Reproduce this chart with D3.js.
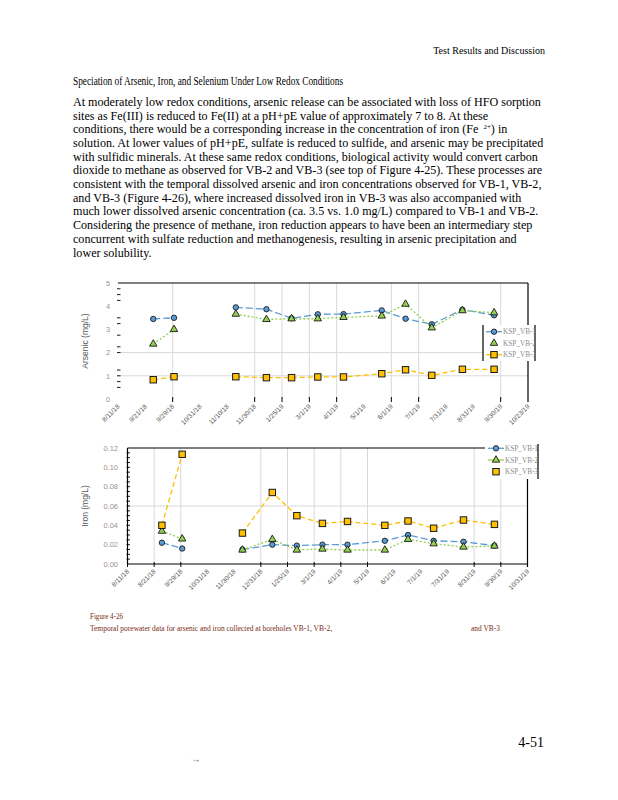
<!DOCTYPE html>
<html><head><meta charset="utf-8">
<script src="https://cdn.jsdelivr.net/npm/d3@7"></script>
<style>html,body{margin:0;padding:0;background:#fff}svg{display:block}</style>
</head><body>
<script>
// ---------------- data ----------------
const samplePos = [1.29, 2.05, 4.31, 5.43, 6.35, 7.31, 8.25, 9.65, 10.52, 11.48, 12.6, 13.76]; // sample time in axis-label units
const asTicks = ["8/11/18","9/21/18","9/29/18","10/31/18","11/10/18","11/30/18","1/25/19","3/1/19","4/1/19","5/1/19","6/1/19","7/1/19","7/31/19","8/31/19","9/30/19","10/23/19"];
const feTicks = ["8/11/18","8/21/18","9/29/18","10/31/18","11/30/18","12/31/18","1/25/19","3/1/19","4/1/19","5/1/19","6/1/19","7/1/19","7/31/19","8/31/19","9/30/19","10/31/19"];
const asGrid = [2,5,6,7,8,10,11,14];
const feGrid = [1,2,5,6,7,8,9,13,14];
const asYTicks = [0,1,2,3,4,5];
const feYTicks = [0,0.02,0.04,0.06,0.08,0.10,0.12];
const seriesNames = ["KSP_VB-1","KSP_VB-2","KSP_VB-3"];
const asVB1 = [3.45,3.50,3.95,3.87,3.48,3.65,3.66,3.82,3.46,3.22,3.85,3.61];
const asVB2 = [2.37,3.00,3.66,3.43,3.46,3.46,3.52,3.58,4.09,3.07,3.81,3.72];
const asVB3 = [0.83,0.96,0.96,0.92,0.92,0.95,0.95,1.09,1.26,1.02,1.28,1.28];
const feVB1 = [0.022,0.016,0.015,0.020,0.019,0.020,0.020,0.024,0.030,0.024,0.023,0.019];
const feVB2 = [0.034,0.026,0.0145,0.0255,0.0145,0.0155,0.0145,0.0145,0.0255,0.021,0.0176,0.0186];
const feVB3 = [0.040,0.1135,0.032,0.074,0.050,0.042,0.044,0.040,0.0445,0.037,0.0455,0.041];

const bodyLines = [
 "At moderately low redox conditions, arsenic release can be associated with loss of HFO sorption",
 "sites as Fe(III) is reduced to Fe(II) at a pH+pE value of approximately 7 to 8. At these",
 "conditions, there would be a corresponding increase in the concentration of iron (Fe |2+|) in",
 "solution. At lower values of pH+pE, sulfate is reduced to sulfide, and arsenic may be precipitated",
 "with sulfidic minerals. At these same redox conditions, biological activity would convert carbon",
 "dioxide to methane as observed for VB-2 and VB-3 (see top of Figure 4-25). These processes are",
 "consistent with the temporal dissolved arsenic and iron concentrations observed for VB-1, VB-2,",
 "and VB-3 (Figure 4-26), where increased dissolved iron in VB-3 was also accompanied with",
 "much lower dissolved arsenic concentration (ca. 3.5 vs. 1.0 mg/L) compared to VB-1 and VB-2.",
 "Considering the presence of methane, iron reduction appears to have been an intermediary step",
 "concurrent with sulfate reduction and methanogenesis, resulting in arsenic precipitation and",
 "lower solubility."
];

// ---------------- page ----------------
const svg = d3.select("body").append("svg").attr("width",618).attr("height",800);
svg.append("rect").attr("width",618).attr("height",800).attr("fill","#fff");
const serif = "'Liberation Serif','Times New Roman',serif";
const sans = "'Liberation Sans',Arial,sans-serif";

svg.append("text").attr("x",545).attr("y",54).attr("text-anchor","end")
  .attr("font-family",serif).attr("font-size",10).attr("fill","#000").text("Test Results and Discussion");
svg.append("text").attr("x",73).attr("y",84.5).attr("font-family",serif).attr("font-size",12)
  .attr("textLength",270).attr("lengthAdjust","spacingAndGlyphs").attr("fill","#000")
  .text("Speciation of Arsenic, Iron, and Selenium Under Low Redox Conditions");

bodyLines.forEach((ln,i)=>{
  const t = svg.append("text").attr("x",73).attr("y",105.8+i*13.7)
    .attr("font-family",serif).attr("font-size",12.1).attr("fill","#000");
  const parts = ln.split("|");
  parts.forEach((p,j)=>{
    if (j===1) t.append("tspan").attr("font-size",7).attr("dy",-4.5).attr("dx",2).text(p);
    else if (j===2) t.append("tspan").attr("dy",4.5).text(p);
    else t.append("tspan").text(p);
  });
});

// ---------------- chart helper ----------------
const colors = ["#5b9bd5","#92d050","#ffc000"];
const dashes = ["7,3","2,2","5,3"];

function runs(vals){
  const out=[]; let cur=[];
  vals.forEach((v,i)=>{
    if (i>0 && samplePos[i]-samplePos[i-1]>1.5){ out.push(cur); cur=[]; }
    cur.push([samplePos[i],v]);
  });
  out.push(cur); return out;
}
function marker(g,type,x,y,color){
  if(type===0) g.append("circle").attr("cx",x).attr("cy",y).attr("r",2.7).attr("fill",color).attr("stroke","#1a1a1a").attr("stroke-width",0.9);
  else if(type===1) g.append("path").attr("d",d3.symbol(d3.symbolTriangle,24)()).attr("transform",`translate(${x},${y})`).attr("fill",color).attr("stroke","#1a1a1a").attr("stroke-width",0.9);
  else g.append("rect").attr("x",x-3.2).attr("y",y-3.2).attr("width",6.4).attr("height",6.4).attr("fill",color).attr("stroke","#1a1a1a").attr("stroke-width",1);
}

function chart(opt){
  const g = svg.append("g");
  const x = d3.scaleLinear().domain([0,15]).range([opt.left,opt.right]);
  const y = d3.scaleLinear().domain(opt.yDomain).range([opt.bottom,opt.top]);
  g.selectAll(".vg").data(opt.grid).enter().append("line")
    .attr("x1",d=>x(d)).attr("x2",d=>x(d)).attr("y1",opt.top).attr("y2",opt.bottom)
    .attr("stroke","#d9d9d9").attr("stroke-width",1);
  g.selectAll(".hg").data(opt.hGrid).enter().append("line")
    .attr("x1",opt.left).attr("x2",opt.right).attr("y1",d=>y(d)).attr("y2",d=>y(d))
    .attr("stroke","#d9d9d9").attr("stroke-width",1);
  g.selectAll(".xt").data(opt.xTickMarks).enter().append("line")
    .attr("x1",d=>x(d)).attr("x2",d=>x(d)).attr("y1",opt.bottom-2).attr("y2",opt.bottom+3)
    .attr("stroke","#000").attr("stroke-width",1);
  g.append("line").attr("x1",opt.left).attr("x2",opt.topEnd).attr("y1",opt.top).attr("y2",opt.top).attr("stroke","#000").attr("stroke-width",1.2);
  g.append("line").attr("x1",opt.right).attr("x2",opt.right).attr("y1",opt.top).attr("y2",opt.bottom+3).attr("stroke","#000").attr("stroke-width",1.2);
  if (opt.axisLines){
    g.append("line").attr("x1",opt.left).attr("x2",opt.right).attr("y1",opt.bottom).attr("y2",opt.bottom).attr("stroke","#000").attr("stroke-width",1.2);
    g.append("line").attr("x1",opt.left).attr("x2",opt.left).attr("y1",opt.top).attr("y2",opt.bottom).attr("stroke","#000").attr("stroke-width",1.2);
  }
  g.selectAll(".mt").data(opt.minor).enter().append("line")
    .attr("x1",opt.left-1).attr("x2",opt.left+2.5).attr("y1",d=>y(d)).attr("y2",d=>y(d))
    .attr("stroke","#000").attr("stroke-width",0.9);
  g.selectAll(".yl").data(opt.yTicks).enter().append("text")
    .attr("x",opt.yLabelX).attr("y",d=>y(d)+2.8).attr("text-anchor",opt.yAnchor)
    .attr("font-family",sans).attr("font-size",7.5).attr("fill","#a09090")
    .text(opt.yFormat);
  g.append("text").attr("transform",`translate(${opt.titleX},${(opt.top+opt.bottom)/2}) rotate(-90)`)
    .attr("text-anchor","middle").attr("font-family",sans).attr("font-size",8.5).attr("fill","#595959").text(opt.yTitle);
  g.selectAll(".xl").data(opt.xLabels).enter().append("text")
    .attr("transform",(d,i)=>`translate(${x(i)+2},${opt.bottom+opt.xLabelOff}) rotate(-45)`)
    .attr("text-anchor","end").attr("font-family",sans).attr("font-size",6.6).attr("fill","#595959").text(d=>d);
  const line = d3.line().x(d=>x(d[0])).y(d=>y(d[1]));
  opt.series.forEach((vals,si)=>{
    runs(vals).forEach(r=>{
      g.append("path").attr("d",line(r)).attr("fill","none").attr("stroke",colors[si])
        .attr("stroke-width",1.3).attr("stroke-dasharray",dashes[si]);
    });
  });
  opt.series.forEach((vals,si)=>{
    vals.forEach((v,i)=>marker(g,si,x(samplePos[i]),y(v),colors[si]));
  });
  const L = opt.legend;
  g.append("rect").attr("x",L.x).attr("y",L.y).attr("width",L.w).attr("height",L.h).attr("fill","#fff");
  if (L.leftBorder) g.append("line").attr("x1",L.x).attr("x2",L.x).attr("y1",L.y).attr("y2",L.y+L.h).attr("stroke","#000").attr("stroke-width",1.2);
  g.append("line").attr("x1",L.x+L.w).attr("x2",L.x+L.w).attr("y1",L.y).attr("y2",L.y+L.h).attr("stroke","#000").attr("stroke-width",1.2);
  const clipId = "clip"+opt.id;
  svg.append("clipPath").attr("id",clipId).append("rect").attr("x",L.x).attr("y",L.y).attr("width",L.w).attr("height",L.h);
  const lg = g.append("g").attr("clip-path",`url(#${clipId})`);
  seriesNames.forEach((nm,si)=>{
    const yy = L.y + L.first + si*L.step;
    if (L.showLine[si]) lg.append("line").attr("x1",L.x+3).attr("x2",L.x+19).attr("y1",yy).attr("y2",yy).attr("stroke",colors[si]).attr("stroke-width",1.3);
    marker(lg,si,L.x+11,yy,colors[si]);
    lg.append("text").attr("x",L.x+20).attr("y",yy+2.6).attr("font-family",serif).attr("font-size",7.2)
      .attr("textLength",33).attr("lengthAdjust","spacingAndGlyphs")
      .attr("fill","#8c8c8c").text(nm);
  });
}

chart({id:"as", left:118, right:528, top:283, bottom:399, topEnd:528, yDomain:[0,5],
  grid:asGrid, hGrid:[1,2], xTickMarks:asGrid, axisLines:false,
  minor:[0.5,0.75,1,1.25,2,2.25,2.75,3.25,3.5,4.25,4.5,4.75],
  yTicks:asYTicks, yFormat:d=>d3.format("d")(d), yLabelX:108, yAnchor:"middle",
  titleX:88, yTitle:"Arsenic (mg/L)", xLabels:asTicks, xLabelOff:8,
  series:[asVB1,asVB2,asVB3],
  legend:{x:483,y:325,w:52,h:36,first:6.7,step:11.5,leftBorder:true,showLine:[true,false,true]}});

chart({id:"fe", left:127.5, right:527.5, top:448, bottom:564, topEnd:485, yDomain:[0,0.12],
  grid:feGrid, hGrid:[0.06], xTickMarks:[0,1,2,5,6,7,8,9,13,14], axisLines:true,
  minor:d3.range(0.005,0.12,0.005),
  yTicks:feYTicks, yFormat:d3.format(".2f"), yLabelX:118, yAnchor:"end",
  titleX:88, yTitle:"Iron (mg/L)", xLabels:feTicks, xLabelOff:8,
  series:[feVB1,feVB2,feVB3],
  legend:{x:485,y:444,w:53,h:35,first:4.3,step:11.7,leftBorder:false,showLine:[true,true,false]}});

const capColor = "#7a2a14";
svg.append("text").attr("x",90).attr("y",619).attr("font-family",serif).attr("font-size",9)
  .attr("textLength",33).attr("lengthAdjust","spacingAndGlyphs").attr("fill",capColor).text("Figure 4-26");
svg.append("text").attr("x",90).attr("y",631).attr("font-family",serif).attr("font-size",9)
  .attr("textLength",242).attr("lengthAdjust","spacingAndGlyphs").attr("fill",capColor)
  .text("Temporal porewater data for arsenic and iron collected at boreholes VB-1, VB-2,");
svg.append("text").attr("x",471).attr("y",631).attr("font-family",serif).attr("font-size",9)
  .attr("textLength",29).attr("lengthAdjust","spacingAndGlyphs").attr("fill",capColor).text("and VB-3");

svg.append("text").attr("x",544).attr("y",747).attr("text-anchor","end").attr("font-family",serif)
  .attr("font-size",14).attr("fill","#000").text("4-51");
svg.append("text").attr("x",191).attr("y",762).attr("font-family",sans).attr("font-size",5)
  .attr("fill","#999").text("\u02C8 \u25AA\u25C2");
</script>
</body></html>
